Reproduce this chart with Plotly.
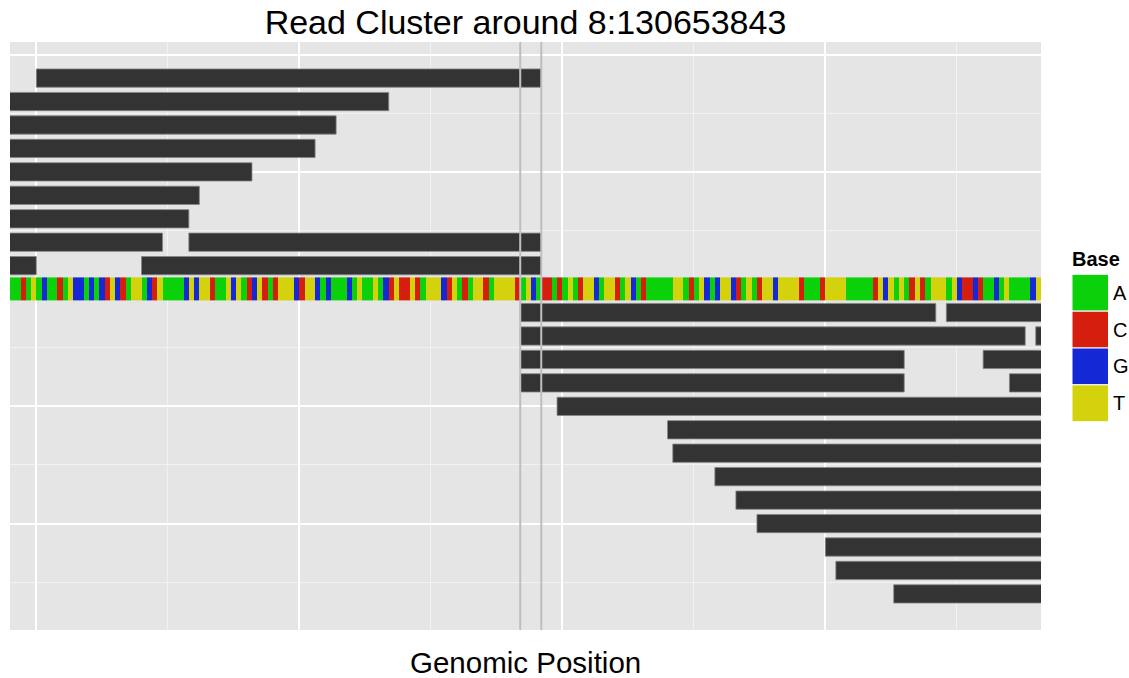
import plotly.graph_objects as go

# ---------------- data ----------------
title_text = "Read Cluster around 8:130653843"
x_title = "Genomic Position"
legend_title = "Base"

window = [130653745, 130653941]          # visible genomic window
breakpoints = [130653842, 130653846]     # grey vertical guide lines

base_letters = ["A", "C", "G", "T"]
base_colors = ["#0BD10B", "#D61E0F", "#1428D6", "#D4D20C"]

reference_seq = (
    "AACATAGAAC" "ATGGAGAGCT" "GCATTAGCTA" "AAAGTGTTCA" "ATGTACGTCA"
    "CTTTGCTTGA" "GAAAGATAAT" "AGCTCCTCAT" "TTGCTACATT" "CATTTTCATG"
    "ACCACATACT" "TGATTCATGA" "CAAAAATTAC" "ATGAGTTGCA" "TACTTGTTTT"
    "CAAACTTTTA" "AAAACTGTAT" "ACTCATTTAT" "GCCGCAAGAT" "AAAAGT"
)

read_row = [9, 8, 7, 6, 5, 4, 3, 2, 2, 1, 1,
            -1, -1, -2, -2, -3, -3, -4, -4,
            -5, -6, -7, -8, -9, -10, -11, -12, -13]
read_start = [130653750, 130653717, 130653707, 130653703, 130653691, 130653681,
              130653679, 130653674, 130653779, 130653650, 130653770,
              130653842, 130653923, 130653842, 130653940, 130653842, 130653930,
              130653842, 130653935,
              130653849, 130653870, 130653871, 130653879, 130653883, 130653887,
              130653900, 130653902, 130653913]
read_end = [130653846, 130653817, 130653807, 130653803, 130653791, 130653781,
            130653779, 130653774, 130653846, 130653750, 130653846,
            130653921, 130653990, 130653938, 130653990, 130653915, 130653990,
            130653915, 130653990,
            130653949, 130653970, 130653971, 130653979, 130653983, 130653987,
            130654000, 130654002, 130654013]

y_major = [-10, -5, 0, 5, 10]
y_minor = [-12.5, -7.5, -2.5, 2.5, 7.5]
x_major = [130653750, 130653800, 130653850, 130653900]
x_minor = [130653775, 130653825, 130653875, 130653925]
y_range = [-14.54, 10.54]

# ---------------- layout constants (pixels) ----------------
W, H = 1129, 678
M_L, M_R, M_T, M_B = 10, 88, 42, 48
PW, PH = W - M_L - M_R, H - M_T - M_B
FONT = "Liberation Sans, Arial, Helvetica, sans-serif"


def px_x(p):
    return (p - M_L) / PW


def px_y(p):
    return (H - M_B - p) / PH


# split reads at the breakpoints into separate blocks
seg_y, seg_base, seg_len = [], [], []
for r, s, e in zip(read_row, read_start, read_end):
    pts = [s] + [b for b in breakpoints if s < b < e] + [e]
    for a, b in zip(pts[:-1], pts[1:]):
        seg_y.append(r)
        seg_base.append(a)
        seg_len.append(b - a)

fig = go.Figure()

# reference sequence strip
codes = {b: i for i, b in enumerate(base_letters)}
n = len(base_letters)
cs = []
for i, c in enumerate(base_colors):
    cs.append([i / n, c])
    cs.append([(i + 1) / n, c])
fig.add_trace(go.Heatmap(
    z=[[codes[b] for b in reference_seq]],
    x=[window[0] + 0.5 + i for i in range(len(reference_seq))],
    y=[0],
    zmin=-0.5, zmax=n - 0.5,
    colorscale=cs, showscale=False, hoverinfo="skip",
))

# reads
fig.add_trace(go.Bar(
    orientation="h", y=seg_y, x=seg_len, base=seg_base, width=0.78,
    marker=dict(color="#333333", line=dict(color="#858585", width=0.8)),
    showlegend=False, hoverinfo="skip",
))

shapes = []
for b in breakpoints:
    shapes.append(dict(type="line", xref="x", yref="paper", x0=b, x1=b, y0=0, y1=1,
                       line=dict(color="#BEBEBE", width=2), layer="above"))

# legend (drawn manually, ggplot style)
key_left, key_right = 1072, 1108.5
key_top, key_h = 274.3, 36.85
annotations = [
    dict(text="<b>%s</b>" % legend_title, xref="paper", yref="paper",
         x=px_x(key_left - 2), y=px_y(259), xanchor="left", yanchor="middle",
         showarrow=False, font=dict(family=FONT, size=20, color="black")),
    dict(text=x_title, xref="paper", yref="paper", x=0.5, y=px_y(663),
         xanchor="center", yanchor="middle", showarrow=False,
         font=dict(family=FONT, size=29.5, color="black")),
]
for i, (lab, col) in enumerate(zip(base_letters, base_colors)):
    t = key_top + i * key_h
    shapes.append(dict(type="rect", xref="paper", yref="paper",
                       x0=px_x(key_left), x1=px_x(key_right),
                       y0=px_y(t + key_h), y1=px_y(t),
                       fillcolor=col, line=dict(color="white", width=1), layer="above"))
    annotations.append(dict(text=lab, xref="paper", yref="paper",
                            x=px_x(key_right + 2), y=px_y(t + key_h / 2),
                            xanchor="left", yanchor="middle", showarrow=False,
                            font=dict(family=FONT, size=20, color="black")))

fig.update_layout(
    width=W, height=H, autosize=False,
    margin=dict(l=M_L, r=M_R, t=M_T, b=M_B),
    paper_bgcolor="white", plot_bgcolor="#E5E5E5",
    barmode="overlay", showlegend=False,
    title=dict(text=title_text, x=0.5, xref="paper", xanchor="center",
               y=1 - 22 / H, yref="container", yanchor="middle",
               font=dict(family=FONT, size=34, color="black")),
    shapes=shapes, annotations=annotations,
    xaxis=dict(range=window, tickmode="array", tickvals=x_major, showticklabels=False,
               ticks="", showgrid=True, gridcolor="white", gridwidth=1.8, zeroline=False,
               showline=False, fixedrange=True,
               minor=dict(tickmode="array", tickvals=x_minor, showgrid=True,
                          gridcolor="#F2F2F2", gridwidth=0.9, ticks="")),
    yaxis=dict(range=y_range, tickmode="array", tickvals=y_major, showticklabels=False,
               ticks="", showgrid=True, gridcolor="white", gridwidth=1.8, zeroline=False,
               showline=False, fixedrange=True,
               minor=dict(tickmode="array", tickvals=y_minor, showgrid=True,
                          gridcolor="#F2F2F2", gridwidth=0.9, ticks="")),
)

fig.write_html("out.html")
